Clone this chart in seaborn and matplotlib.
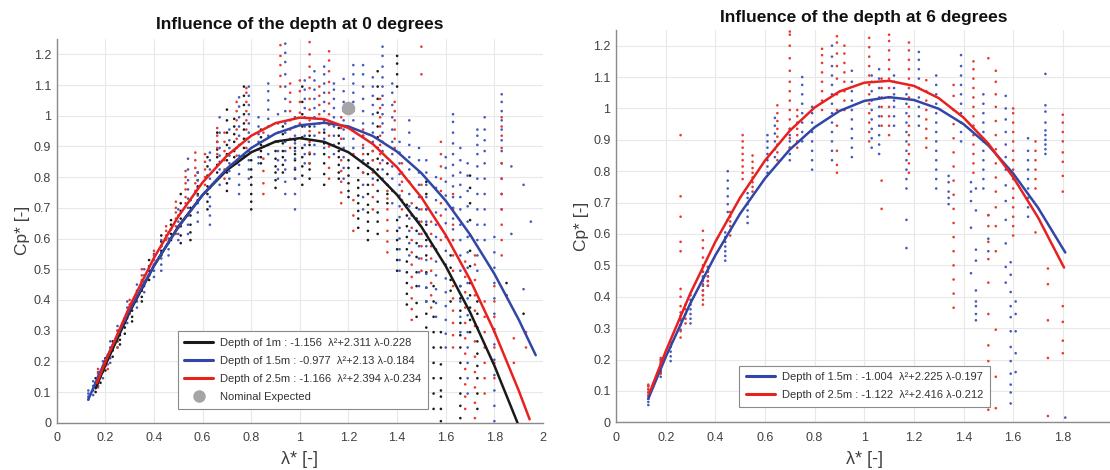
import numpy as np
import pandas as pd
import matplotlib
matplotlib.use("Agg")
import matplotlib.pyplot as plt
import seaborn as sns

# ---------------- data ----------------
# Left chart (0 degrees): measured points, grouped in vertical strips (x position, y values)
L1_x = [0.16, 0.18, 0.20, 0.23, 0.26, 0.28, 0.31, 0.35, 0.38, 0.43, 0.47, 0.51, 0.55, 0.58, 0.62, 0.66,
        0.70, 0.73, 0.77, 0.80, 0.84, 0.90, 0.93, 0.98, 1.01, 1.04, 1.10, 1.16, 1.20, 1.24, 1.28, 1.32,
        1.36, 1.40, 1.44, 1.48, 1.52, 1.55, 1.58, 1.62, 1.66, 1.70, 1.73, 1.85, 1.92]
L1_y = [[0.10, 0.115, 0.13, 0.145], [0.13, 0.15, 0.165], [0.17, 0.185, 0.195, 0.21],
        [0.215, 0.235, 0.25, 0.265], [0.255, 0.27, 0.285, 0.30], [0.29, 0.31, 0.325, 0.34],
        [0.33, 0.345, 0.365, 0.38], [0.395, 0.41, 0.43, 0.445, 0.46], [0.465, 0.48, 0.495, 0.51, 0.53],
        [0.545, 0.56, 0.575, 0.59, 0.61], [0.595, 0.615, 0.63, 0.645, 0.66],
        [0.585, 0.61, 0.64, 0.665, 0.69, 0.715, 0.745], [0.595, 0.62, 0.645, 0.675, 0.70, 0.725],
        [0.725, 0.745, 0.77, 0.79, 0.815], [0.695, 0.72, 0.745, 0.77, 0.805, 0.835, 0.865],
        [0.815, 0.84, 0.865, 0.89, 0.915, 0.945], [0.755, 0.78, 0.815, 0.855, 0.875, 0.905, 0.945, 0.985, 1.02],
        [0.865, 0.885, 0.915, 0.94, 0.965, 0.99], [0.87, 0.895, 0.925, 0.955, 0.975, 1.005, 1.035, 1.065, 1.095],
        [0.695, 0.72, 0.745, 0.775, 0.80, 0.825, 0.855], [0.845, 0.865, 0.885, 0.905, 0.93, 0.955],
        [0.765, 0.79, 0.815, 0.835, 0.86, 0.885, 0.915], [0.815, 0.84, 0.865, 0.885, 0.91, 0.94, 0.965],
        [0.795, 0.825, 0.855, 0.875, 0.895, 0.92],
        [0.775, 0.805, 0.835, 0.865, 0.895, 0.93, 0.965, 1.005, 1.045, 1.095],
        [0.795, 0.825, 0.845, 0.875, 0.905, 0.935, 0.965], [0.775, 0.81, 0.845, 0.875, 0.91, 0.945, 0.985],
        [0.795, 0.815, 0.84, 0.865, 0.885, 0.91, 0.935, 0.96], [0.735, 0.755, 0.78, 0.805, 0.83, 0.855],
        [0.635, 0.665, 0.69, 0.715, 0.74, 0.765, 0.79, 0.83],
        [0.595, 0.625, 0.655, 0.685, 0.71, 0.745, 0.775, 0.81, 0.845, 0.875],
        [0.615, 0.655, 0.685, 0.72, 0.755, 0.79, 0.825, 0.86, 0.895, 0.93, 0.965, 1.01, 1.055, 1.095, 1.145],
        [0.715, 0.745, 0.775, 0.81, 0.845], [0.495, 0.53, 0.565, 0.595, 0.625, 0.66, 1.095, 1.135, 1.17, 1.195],
        [0.385, 0.42, 0.455, 0.49, 0.525, 0.565, 0.605, 0.64, 0.675, 0.71],
        [0.345, 0.39, 0.445, 0.49, 0.54, 0.585, 0.625, 0.665, 0.70],
        [0.195, 0.235, 0.275, 0.31, 0.355, 0.395, 0.44, 0.49, 0.545, 0.595, 0.645, 0.695, 0.745, 0.785],
        [0.045, 0.095, 0.145, 0.195, 0.245, 0.295, 0.345, 0.395, 0.445],
        [0.005, 0.045, 0.085, 0.105, 0.145, 0.19, 0.245, 0.295], [0.395, 0.43, 0.465, 0.505, 0.545],
        [0.015, 0.055, 0.095, 0.145, 0.195, 0.245, 0.285, 0.325, 0.365, 0.405, 0.445],
        [0.295, 0.335, 0.375, 0.415, 0.455, 0.51, 0.56, 0.61, 0.66, 0.715, 0.765, 0.805],
        [0.045, 0.095, 0.145, 0.185, 0.225, 0.265, 0.31, 0.355, 0.395], [0.415, 0.455], [0.355]]

L15_x = [0.13, 0.15, 0.17, 0.19, 0.22, 0.25, 0.29, 0.33, 0.36, 0.40, 0.43, 0.46, 0.50, 0.54, 0.58, 0.63,
         0.67, 0.71, 0.75, 0.79, 0.83, 0.87, 0.91, 0.94, 0.98, 1.02, 1.06, 1.10, 1.14, 1.18, 1.22, 1.26,
         1.30, 1.34, 1.38, 1.41, 1.45, 1.49, 1.52, 1.56, 1.60, 1.63, 1.66, 1.69, 1.73, 1.76, 1.80, 1.83,
         1.87, 1.92, 1.95]
L15_y = [[0.075, 0.085, 0.095, 0.105], [0.09, 0.105, 0.12, 0.135], [0.12, 0.135, 0.15, 0.165],
         [0.145, 0.165, 0.18, 0.20], [0.195, 0.21, 0.23, 0.245, 0.265], [0.245, 0.265, 0.28, 0.30, 0.315],
         [0.325, 0.34, 0.36, 0.375, 0.395], [0.375, 0.395, 0.415, 0.43, 0.45], [0.425, 0.445, 0.46, 0.48, 0.50],
         [0.475, 0.495, 0.515, 0.53, 0.55], [0.495, 0.515, 0.535, 0.555, 0.575, 0.595],
         [0.545, 0.565, 0.585, 0.60, 0.62], [0.595, 0.615, 0.635, 0.655, 0.675, 0.695],
         [0.615, 0.645, 0.675, 0.70, 0.73, 0.76, 0.79, 0.825, 0.86],
         [0.655, 0.685, 0.715, 0.74, 0.765, 0.79, 0.815],
         [0.645, 0.675, 0.705, 0.735, 0.765, 0.795, 0.825, 0.855, 0.88],
         [0.775, 0.80, 0.825, 0.85, 0.87, 0.895, 0.945, 0.995], [0.795, 0.82, 0.845, 0.87, 0.895, 0.92, 0.955],
         [0.745, 0.775, 0.81, 0.84, 0.87, 0.905, 0.935, 0.965, 0.995, 1.03, 1.06],
         [0.795, 0.825, 0.855, 0.885, 0.915, 0.945, 0.975, 1.005, 1.035, 1.065, 1.095],
         [0.845, 0.865, 0.89, 0.915, 0.94, 0.965, 0.995],
         [0.875, 0.905, 0.935, 0.965, 0.99, 1.02, 1.05, 1.08, 1.105],
         [0.795, 0.825, 0.855, 0.885, 0.915, 0.945, 0.975, 1.005],
         [0.745, 0.785, 0.825, 0.855, 0.885, 0.915, 0.945, 0.975, 1.015, 1.055, 1.095, 1.135, 1.175, 1.205, 1.235],
         [0.695, 0.745, 0.795, 0.83, 0.86, 0.885, 0.91, 0.935, 0.965, 0.995],
         [0.845, 0.875, 0.905, 0.935, 0.965, 0.995, 1.025, 1.055, 1.085, 1.115],
         [0.875, 0.905, 0.935, 0.965, 0.995, 1.025, 1.055, 1.085, 1.115, 1.145],
         [0.895, 0.925, 0.955, 0.985, 1.015, 1.045, 1.075, 1.105, 1.135, 1.16],
         [0.875, 0.905, 0.935, 0.965, 0.995, 1.025, 1.055, 1.085, 1.105],
         [0.795, 0.83, 0.865, 0.895, 0.925, 0.955, 0.985, 1.015, 1.045, 1.08, 1.12],
         [0.895, 0.925, 0.955, 0.985, 1.015, 1.045, 1.075, 1.105, 1.135, 1.165],
         [0.695, 0.735, 0.775, 0.815, 0.855, 0.895, 0.935, 0.975, 1.015, 1.055, 1.095, 1.135, 1.165],
         [0.795, 0.825, 0.855, 0.885, 0.915, 0.945, 0.975, 1.005, 1.035, 1.065, 1.095, 1.125],
         [0.795, 0.825, 0.855, 0.885, 0.915, 0.945, 0.975, 1.005, 1.035, 1.065, 1.095, 1.125, 1.16, 1.195, 1.225],
         [0.715, 0.755, 0.795, 0.835, 0.875, 0.915, 0.955, 0.995, 1.035, 1.075, 1.105],
         [0.495, 0.53, 0.565, 0.60, 0.635, 0.67, 0.705, 0.74, 0.775, 0.81, 0.845, 0.88, 0.915],
         [0.545, 0.585, 0.625, 0.665, 0.705, 0.745, 0.785, 0.825, 0.865, 0.905, 0.945, 0.985],
         [0.445, 0.49, 0.535, 0.575, 0.615, 0.655, 0.695, 0.735, 0.775, 0.815, 0.855, 0.895],
         [0.395, 0.44, 0.485, 0.53, 0.575, 0.615, 0.655, 0.695, 0.735, 0.775, 0.815, 0.855],
         [0.345, 0.39, 0.435, 0.48, 0.525, 0.565, 0.605, 0.645, 0.685, 0.725, 0.765, 0.80],
         [0.245, 0.29, 0.335, 0.38, 0.425, 0.47, 0.515, 0.56, 0.605, 0.65, 0.695, 0.74, 0.785, 0.83, 0.865],
         [0.595, 0.63, 0.665, 0.70, 0.735, 0.77, 0.805, 0.84, 0.875, 0.91, 0.945, 0.98, 1.005],
         [0.295, 0.345, 0.395, 0.445, 0.495, 0.545, 0.595, 0.645, 0.695, 0.735, 0.775, 0.815, 0.855, 0.895],
         [0.095, 0.145, 0.195, 0.245, 0.295, 0.35, 0.405, 0.455, 0.505, 0.555, 0.605, 0.655, 0.705, 0.755,
          0.805, 0.845],
         [0.495, 0.545, 0.595, 0.645, 0.695, 0.745, 0.795, 0.835, 0.875, 0.905, 0.935, 0.955],
         [0.595, 0.645, 0.695, 0.745, 0.795, 0.845, 0.885, 0.92, 0.955, 0.995],
         [0.005, 0.055, 0.105, 0.155, 0.205, 0.255, 0.305, 0.355, 0.405, 0.455, 0.505, 0.555, 0.605],
         [0.695, 0.745, 0.795, 0.845, 0.885, 0.92, 0.955, 0.985, 1.015, 1.045, 1.07],
         [0.615, 0.835], [0.435, 0.775], [0.655]]

L25_x = [0.17, 0.21, 0.25, 0.30, 0.35, 0.40, 0.45, 0.49, 0.53, 0.57, 0.61, 0.66, 0.69, 0.74, 0.78, 0.85,
         0.92, 0.96, 1.00, 1.04, 1.08, 1.12, 1.17, 1.22, 1.26, 1.30, 1.33, 1.36, 1.39, 1.42, 1.46, 1.50,
         1.54, 1.58, 1.63, 1.68, 1.72, 1.76, 1.80, 1.83, 1.88, 1.93]
L25_y = [[0.115, 0.13, 0.145, 0.16, 0.175], [0.175, 0.19, 0.205, 0.22], [0.245, 0.265, 0.285, 0.30],
         [0.355, 0.37, 0.385, 0.40], [0.435, 0.45, 0.465, 0.48, 0.50], [0.515, 0.53, 0.545, 0.56],
         [0.595, 0.61, 0.625, 0.64], [0.615, 0.64, 0.665, 0.685, 0.70, 0.72],
         [0.715, 0.735, 0.76, 0.78, 0.80, 0.82], [0.755, 0.78, 0.805, 0.83, 0.855, 0.88],
         [0.775, 0.80, 0.825, 0.85, 0.875], [0.875, 0.895, 0.915, 0.935, 0.96],
         [0.795, 0.825, 0.855, 0.885, 0.915, 0.945], [0.845, 0.87, 0.895, 0.925, 0.955, 0.985, 1.015, 1.045],
         [0.895, 0.925, 0.955, 0.985, 1.015, 1.045, 1.075, 1.09], [0.745, 0.78, 0.82, 0.86, 0.90, 0.945],
         [1.095, 1.13, 1.165, 1.195, 1.23], [0.895, 0.925, 0.955, 0.985, 1.015, 1.045, 1.075, 1.105],
         [0.975, 1.01, 1.045, 1.08, 1.115],
         [0.845, 0.88, 0.915, 0.95, 0.985, 1.02, 1.055, 1.09, 1.125, 1.16, 1.20, 1.24],
         [0.945, 0.975, 1.005, 1.035, 1.065, 1.095],
         [0.795, 0.83, 0.865, 0.90, 0.935, 0.97, 1.005, 1.04, 1.075, 1.11, 1.145, 1.18, 1.21],
         [0.715, 0.75, 0.785, 0.82, 0.855, 0.89, 0.925, 0.96, 0.995], [0.625, 0.675, 0.725, 0.875],
         [0.815, 0.845, 0.875, 0.905, 0.935, 0.955], [0.695, 0.735, 0.775, 0.815, 0.855, 0.885],
         [0.845, 0.875, 0.905, 0.935, 0.965, 0.995, 1.025, 1.055], [0.555, 0.59, 0.625, 0.66, 0.695, 0.73, 0.755],
         [0.895, 0.925, 0.955, 0.985, 1.015, 1.045], [0.695, 0.725, 0.755, 0.785, 0.815, 0.845],
         [0.295, 0.335, 0.37, 0.405, 0.44, 0.475, 0.515, 0.555, 0.595, 0.635, 0.675, 0.715],
         [0.495, 0.535, 0.575, 0.615, 0.655, 0.695, 0.735, 0.775, 1.135, 1.225],
         [0.375, 0.415, 0.455, 0.495, 0.535, 0.575, 0.615, 0.655],
         [0.595, 0.635, 0.675, 0.715, 0.755, 0.795, 0.835, 0.875, 0.915],
         [0.245, 0.285, 0.325, 0.365, 0.405, 0.445, 0.495, 0.545, 0.595, 0.645, 0.695, 0.745],
         [0.045, 0.085, 0.125, 0.175, 0.225, 0.275, 0.325, 0.375, 0.425, 0.475, 0.525],
         [0.015, 0.065, 0.115, 0.165, 0.215, 0.265, 0.315, 0.365, 0.415, 0.465, 0.515, 0.545],
         [0.095, 0.145, 0.195, 0.245, 0.295, 0.345, 0.395], [0.145, 0.195, 0.245, 0.295, 0.345, 0.395, 0.445],
         [0.545, 0.595, 0.645, 0.695, 0.745, 0.795, 0.845, 0.895, 0.935, 0.965, 0.995],
         [0.195, 0.275], [0.245, 0.295]]

# Right chart (6 degrees)
R15_x = [0.13, 0.18, 0.22, 0.26, 0.30, 0.35, 0.37, 0.44, 0.45, 0.53, 0.61, 0.64, 0.70, 0.75, 0.79, 0.87,
         0.95, 1.03, 1.06, 1.12, 1.17, 1.22, 1.29, 1.34, 1.39, 1.43, 1.45, 1.48, 1.50, 1.57, 1.59, 1.61,
         1.66, 1.73, 1.81]
R15_y = [[0.055, 0.065, 0.075, 0.085, 0.095, 0.105, 0.115], [0.145, 0.16, 0.175, 0.19, 0.20],
         [0.195, 0.21, 0.225, 0.24, 0.255], [0.295, 0.31, 0.325, 0.34],
         [0.315, 0.33, 0.345, 0.36, 0.375, 0.39, 0.405], [0.405, 0.42, 0.435, 0.45, 0.465, 0.48],
         [0.435, 0.45, 0.465, 0.48, 0.495], [0.515, 0.53, 0.545, 0.56, 0.575, 0.59, 0.605],
         [0.645, 0.67, 0.695, 0.72, 0.745, 0.77, 0.80], [0.635, 0.655, 0.675, 0.695, 0.715, 0.73],
         [0.795, 0.815, 0.835, 0.855, 0.875, 0.895, 0.915], [0.845, 0.87, 0.895, 0.92, 0.945, 0.97],
         [0.835, 0.855, 0.875, 0.895, 0.915, 0.935], [0.895, 0.925, 0.955, 0.985, 1.015, 1.045, 1.075, 1.10],
         [0.805, 0.835, 0.865, 0.895, 0.925, 0.955, 0.985, 1.005],
         [0.835, 0.865, 0.895, 0.925, 0.955, 0.985, 1.015, 1.045, 1.075, 1.105, 1.135, 1.165, 1.20],
         [0.845, 0.875, 0.905, 0.935, 0.965, 0.995, 1.025, 1.055, 1.085, 1.12],
         [0.875, 0.905, 0.935, 0.965, 0.995, 1.025, 1.055, 1.085, 1.105],
         [0.855, 0.885, 0.915, 0.945, 0.975, 1.005, 1.035, 1.065, 1.095, 1.125],
         [0.945, 0.975, 1.005, 1.025, 1.045, 1.065, 1.085, 1.105],
         [0.555, 0.645, 0.745, 0.775, 0.805, 0.835, 0.865, 0.895, 0.925, 0.955, 0.985, 1.015, 1.045],
         [0.945, 0.975, 1.005, 1.035, 1.065, 1.095, 1.125, 1.155, 1.18],
         [0.745, 0.775, 0.805, 0.835, 0.865, 0.895, 0.925, 0.955, 0.985, 1.015, 1.045, 1.075, 1.105],
         [0.695, 0.715, 0.735, 0.765, 0.785],
         [0.895, 0.925, 0.955, 0.985, 1.015, 1.045, 1.075, 1.105, 1.135, 1.17],
         [0.475, 0.62, 0.705, 0.735, 0.765],
         [0.325, 0.345, 0.37, 0.385, 0.42, 0.515, 0.55, 0.675, 0.745],
         [0.745, 0.775, 0.805, 0.835, 0.865, 0.895, 0.925, 0.955, 0.985, 1.015, 1.045],
         [0.545, 0.585, 0.66],
         [0.445, 0.495, 0.57, 0.645, 0.705, 0.755, 0.805, 0.845, 0.885, 0.925, 0.965, 1.00, 1.04],
         [0.06, 0.095, 0.12, 0.155, 0.195, 0.24, 0.29, 0.335, 0.37, 0.415, 0.47, 0.51],
         [0.16, 0.22, 0.29, 0.345, 0.385],
         [0.655, 0.685, 0.715, 0.745, 0.775, 0.805, 0.835, 0.865, 0.905],
         [0.855, 0.87, 0.885, 0.90, 0.915, 0.93, 0.955, 0.99, 1.01, 1.11], [0.015]]

R25_x = [0.13, 0.18, 0.26, 0.28, 0.35, 0.37, 0.46, 0.51, 0.55, 0.65, 0.70, 0.73, 0.83, 0.89, 0.92, 1.02,
         1.07, 1.10, 1.18, 1.25, 1.36, 1.44, 1.50, 1.53, 1.60, 1.69, 1.74, 1.80]
R25_y = [[0.075, 0.085, 0.095, 0.105, 0.115, 0.12], [0.155, 0.165, 0.175, 0.185, 0.195, 0.205],
         [0.27, 0.29, 0.31, 0.33, 0.35, 0.37, 0.40, 0.425, 0.545, 0.575, 0.655, 0.72, 0.915],
         [0.315, 0.33, 0.345, 0.36, 0.375],
         [0.375, 0.39, 0.405, 0.42, 0.44, 0.46, 0.48, 0.50, 0.525, 0.555, 0.58, 0.61],
         [0.435, 0.45, 0.465, 0.48, 0.495], [0.595, 0.61, 0.625, 0.64, 0.655, 0.67],
         [0.775, 0.795, 0.815, 0.835, 0.855, 0.875, 0.895, 0.915],
         [0.735, 0.75, 0.765, 0.78, 0.795, 0.81, 0.83, 0.85],
         [0.835, 0.86, 0.885, 0.91, 0.935, 0.96, 0.985, 1.01],
         [0.875, 0.905, 0.935, 0.965, 0.995, 1.025, 1.055, 1.085, 1.12, 1.16, 1.20, 1.235, 1.245],
         [0.875, 0.895, 0.915, 0.935, 0.955, 0.975, 0.995],
         [0.995, 1.025, 1.055, 1.085, 1.115, 1.145, 1.17, 1.19],
         [0.795, 0.82, 0.865, 0.945, 0.995, 1.045, 1.095, 1.135, 1.175, 1.21, 1.23],
         [0.995, 1.025, 1.055, 1.085, 1.115, 1.145, 1.175, 1.20],
         [0.895, 0.925, 0.955, 0.985, 1.015, 1.045, 1.075, 1.105, 1.135, 1.165, 1.195, 1.225],
         [0.68, 0.77, 0.945, 0.975, 1.005, 1.035, 1.065, 1.095],
         [0.915, 0.945, 0.975, 1.005, 1.035, 1.065, 1.095, 1.125, 1.155, 1.185, 1.215, 1.235],
         [0.795, 0.825, 0.855, 0.885, 0.915, 0.945, 0.975, 1.005, 1.035, 1.065, 1.095, 1.125, 1.155, 1.185, 1.21],
         [0.875, 0.905, 0.935, 0.965, 0.995, 1.025, 1.055, 1.09],
         [0.365, 0.41, 0.455, 0.50, 0.545, 0.59, 0.635, 0.68, 0.725, 0.77, 0.815, 0.86, 0.905, 0.95, 0.995,
          1.04, 1.075],
         [0.795, 0.825, 0.855, 0.885, 0.915, 0.945, 0.975, 1.005, 1.035, 1.065, 1.095, 1.125, 1.15],
         [0.04, 0.05, 0.195, 0.245, 0.345, 0.445, 0.52, 0.575, 0.625, 0.66, 1.16],
         [0.045, 0.145, 0.295, 0.545, 0.625, 0.685, 0.735, 0.78, 0.825, 0.87, 0.915, 0.96, 1.005, 1.045,
          1.085, 1.12],
         [0.595, 0.625, 0.655, 0.685, 0.715, 0.745, 0.775, 0.805, 0.835, 0.865, 0.895, 0.925, 0.955, 0.985, 1.00],
         [0.605, 0.745, 0.775, 0.805, 0.835, 0.865, 0.895], [0.02, 0.205, 0.325, 0.44, 0.49],
         [0.22, 0.26, 0.32, 0.37, 0.735, 0.785, 0.83, 0.86, 0.895, 0.925, 0.955, 0.98]]

# Fitted curves (points read along each fit)
L1_fit_x = [0.16, 0.2, 0.3, 0.4, 0.5, 0.6, 0.7, 0.8, 0.9, 1.0, 1.1, 1.2, 1.3, 1.4, 1.5, 1.6, 1.7, 1.8, 1.895]
L1_fit_y = [0.112, 0.188, 0.361, 0.511, 0.639, 0.742, 0.823, 0.881, 0.916, 0.927, 0.915, 0.881, 0.823,
            0.742, 0.638, 0.510, 0.360, 0.186, 0.000]
L15_fit_x = [0.13, 0.2, 0.3, 0.4, 0.5, 0.6, 0.7, 0.8, 0.9, 1.0, 1.1, 1.2, 1.3, 1.4, 1.5, 1.6, 1.7, 1.8, 1.9, 1.97]
L15_fit_y = [0.076, 0.203, 0.367, 0.512, 0.637, 0.742, 0.828, 0.895, 0.942, 0.969, 0.977, 0.965, 0.934,
             0.883, 0.813, 0.723, 0.613, 0.485, 0.336, 0.220]
L25_fit_x = [0.165, 0.2, 0.3, 0.4, 0.5, 0.6, 0.7, 0.8, 0.9, 1.0, 1.1, 1.2, 1.3, 1.4, 1.5, 1.6, 1.7, 1.8, 1.9, 1.945]
L25_fit_y = [0.129, 0.198, 0.379, 0.537, 0.672, 0.783, 0.870, 0.935, 0.976, 0.994, 0.989, 0.960, 0.908,
             0.832, 0.734, 0.611, 0.466, 0.297, 0.105, 0.011]
R15_fit_x = [0.13, 0.2, 0.3, 0.4, 0.5, 0.6, 0.7, 0.8, 0.9, 1.0, 1.1, 1.2, 1.3, 1.4, 1.5, 1.6, 1.7, 1.81]
R15_fit_y = [0.075, 0.208, 0.380, 0.532, 0.665, 0.777, 0.869, 0.940, 0.992, 1.024, 1.036, 1.027, 0.999,
             0.950, 0.882, 0.793, 0.684, 0.541]
R25_fit_x = [0.135, 0.2, 0.3, 0.4, 0.5, 0.6, 0.7, 0.8, 0.9, 1.0, 1.1, 1.2, 1.3, 1.4, 1.5, 1.6, 1.7, 1.805]
R25_fit_y = [0.094, 0.226, 0.412, 0.575, 0.716, 0.834, 0.929, 1.003, 1.054, 1.082, 1.088, 1.072, 1.033,
             0.971, 0.888, 0.781, 0.653, 0.493]

nominal_x = [1.2]
nominal_y = [1.025]

L_labels = ["Depth of 1m : -1.156  λ²+2.311 λ-0.228",
            "Depth of 1.5m : -0.977  λ²+2.13 λ-0.184",
            "Depth of 2.5m : -1.166  λ²+2.394 λ-0.234",
            "Nominal Expected"]
R_labels = ["Depth of 1.5m : -1.004  λ²+2.225 λ-0.197",
            "Depth of 2.5m : -1.122  λ²+2.416 λ-0.212"]
titles = ["Influence of the depth at 0 degrees", "Influence of the depth at 6 degrees"]
x_ticks = [0, 0.2, 0.4, 0.6, 0.8, 1, 1.2, 1.4, 1.6, 1.8, 2]
y_ticks = [0, 0.1, 0.2, 0.3, 0.4, 0.5, 0.6, 0.7, 0.8, 0.9, 1, 1.1, 1.2]

# ---------------- style ----------------
sns.set_style("whitegrid", {"grid.color": "#e8e8e8", "axes.edgecolor": "#8a8a8a"})
plt.rcParams["font.family"] = ["Liberation Sans", "DejaVu Sans"]

BLACK = "#1a1a1a"
BLUE = "#3146a6"
RED = "#e8211f"
DOT_BLUE = "#4259bf"
DOT_RED = "#e8392f"
TXT = "#404040"


def strips_df(xs, ys, name):
    rows = []
    for x, yl in zip(xs, ys):
        for y in yl:
            rows.append((x, y, name))
    return pd.DataFrame(rows, columns=["x", "y", "series"])


fig = plt.figure(figsize=(11.1, 4.7), dpi=100)
axL = fig.add_axes([0.0511, 0.1006, 0.4381, 0.8164])
axR = fig.add_axes([0.5550, 0.1015, 0.4472, 0.8347])

# scatter
dfL = pd.concat([strips_df(L1_x, L1_y, "1m"), strips_df(L15_x, L15_y, "1.5m"),
                 strips_df(L25_x, L25_y, "2.5m")], ignore_index=True)
sns.scatterplot(data=dfL, x="x", y="y", hue="series",
                palette={"1m": BLACK, "1.5m": DOT_BLUE, "2.5m": DOT_RED},
                s=3.5, linewidth=0, legend=False, ax=axL, zorder=2)
dfR = pd.concat([strips_df(R15_x, R15_y, "1.5m"), strips_df(R25_x, R25_y, "2.5m")], ignore_index=True)
sns.scatterplot(data=dfR, x="x", y="y", hue="series",
                palette={"1.5m": DOT_BLUE, "2.5m": DOT_RED},
                s=3.5, linewidth=0, legend=False, ax=axR, zorder=2)

# fitted curves
hL = []
for xs, ys, c, lab in [(L1_fit_x, L1_fit_y, BLACK, L_labels[0]),
                       (L15_fit_x, L15_fit_y, BLUE, L_labels[1]),
                       (L25_fit_x, L25_fit_y, RED, L_labels[2])]:
    sns.lineplot(x=xs, y=ys, color=c, lw=1.8, sort=False, estimator=None, ax=axL, zorder=3)
    hL.append(plt.Line2D([], [], color=c, lw=2.2, label=lab))
axL.scatter(nominal_x, nominal_y, s=95, color="#a5a5a8", zorder=4, linewidths=0)
hL.append(plt.Line2D([], [], marker="o", ls="", markersize=9, color="#a5a5a8",
                     markeredgewidth=0, label=L_labels[3]))

hR = []
for xs, ys, c, lab in [(R15_fit_x, R15_fit_y, BLUE, R_labels[0]),
                       (R25_fit_x, R25_fit_y, RED, R_labels[1])]:
    sns.lineplot(x=xs, y=ys, color=c, lw=1.8, sort=False, estimator=None, ax=axR, zorder=3)
    hR.append(plt.Line2D([], [], color=c, lw=2.2, label=lab))

for ax, title, tpad in [(axL, titles[0], 7), (axR, titles[1], 6)]:
    ax.set_xlim(0, 2)
    ax.set_ylim(0, 1.25)
    ax.set_xticks(x_ticks)
    ax.set_xticklabels([f"{t:g}" for t in x_ticks])
    ax.set_yticks(y_ticks)
    ax.set_yticklabels([f"{t:g}" for t in y_ticks])
    ax.tick_params(axis="both", direction="in", length=3, width=0.8, color="#8a8a8a",
                   labelsize=9, labelcolor=TXT, pad=4)
    ax.tick_params(axis="x", pad=7)
    for s in ["top", "right"]:
        ax.spines[s].set_visible(False)
    for s in ["left", "bottom"]:
        ax.spines[s].set_color("#8a8a8a")
        ax.spines[s].set_linewidth(1.0)
    ax.grid(True, color="#e8e8e8", lw=0.8)
    ax.set_axisbelow(True)
    ax.set_xlabel("λ* [-]", fontsize=13, color=TXT, labelpad=5)
    ax.set_ylabel("Cp* [-]", fontsize=12.5, color=TXT, labelpad=3)
    ax.set_title(title, fontsize=12.5, fontweight="bold", color="#111111", pad=tpad)

leg_kw = dict(loc="lower left", fontsize=8, frameon=True, fancybox=False, framealpha=1,
              edgecolor="#8a8a8a", handlelength=2.6, handletextpad=0.6, borderpad=0.6,
              labelspacing=0.72, borderaxespad=0)
legL = axL.legend(handles=hL, bbox_to_anchor=(0.2485, 0.037), **leg_kw)
legR = axR.legend(handles=hR, bbox_to_anchor=(0.2485, 0.039), **leg_kw)
for leg in (legL, legR):
    leg.get_frame().set_linewidth(0.8)
    for t in leg.get_texts():
        t.set_color("#333333")

fig.savefig("out.png", dpi=100)
